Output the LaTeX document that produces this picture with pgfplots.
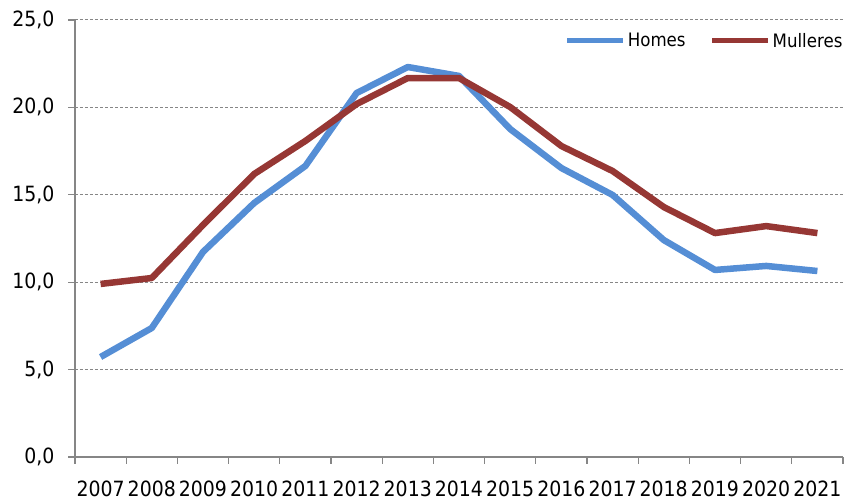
\documentclass[border=0pt]{standalone}
\usepackage{fontspec}
\setmainfont{DejaVu Sans Condensed}
\usepackage{pgfplots}
\pgfplotsset{compat=1.18}
\usetikzlibrary{calc}

\definecolor{homes}{RGB}{85,142,213}
\definecolor{mulleres}{RGB}{150,55,52}
\definecolor{axisgray}{RGB}{134,134,134}

\begin{document}
\begin{tikzpicture}
\begin{axis}[
    scale only axis,
    width=768pt, height=437pt,
    xmin=2006.5, xmax=2021.5,
    ymin=0, ymax=25,
    axis x line*=bottom,
    axis y line*=left,
    axis line style={axisgray, line width=1.2pt},
    xtick={2007,...,2021},
    xticklabel style={/pgf/number format/1000 sep={}, yshift=-13pt},
    x tick label style={font=\fontsize{21}{24}\selectfont},
    major x tick style={draw=none},
    minor xtick={2006.5,2007.5,...,2021.5},
    minor x tick style={axisgray, line width=1.2pt},
    ytick={0,5,...,25},
    y tick label style={font=\fontsize{21}{24}\selectfont, xshift=-10pt},
    yticklabel style={/pgf/number format/.cd, fixed, fixed zerofill, precision=1, use comma},
    /pgf/number format/assume math mode=true,
    major y tick style={axisgray, line width=1.2pt},
    tick align=outside,
    major tick length=7pt,
    minor tick length=7pt,
    ymajorgrids=true,
    grid style={densely dashed, axisgray, line width=1pt},
    legend columns=2,
    legend style={draw=none, fill=none, at={(rel axis cs:1.006,0.952)}, anchor=east,
        font=\fontsize{18.5}{21}\selectfont,
        /tikz/every even column/.append style={column sep=22pt}},
    legend image code/.code={\draw[#1, line width=5pt] (0pt,0pt) -- (56pt,0pt);},
]
\addplot[homes, line width=6.5pt, line join=round] coordinates {
    (2007,5.72)(2008,7.38)(2009,11.73)(2010,14.53)(2011,16.65)
    (2012,20.82)(2013,22.31)(2014,21.80)(2015,18.76)(2016,16.53)
    (2017,14.99)(2018,12.41)(2019,10.70)(2020,10.93)(2021,10.64)
};
\addlegendentry{Homes}
\addplot[mulleres, line width=6.5pt, line join=round] coordinates {
    (2007,9.90)(2008,10.24)(2009,13.27)(2010,16.19)(2011,18.08)
    (2012,20.19)(2013,21.68)(2014,21.68)(2015,20.02)(2016,17.79)
    (2017,16.36)(2018,14.30)(2019,12.81)(2020,13.21)(2021,12.81)
};
\addlegendentry{Mulleres}
\end{axis}
\path[use as bounding box] ($(current axis.south west)+(-75pt,-44pt)$) rectangle ($(current axis.north east)+(7pt,20pt)$);
\end{tikzpicture}
\end{document}
